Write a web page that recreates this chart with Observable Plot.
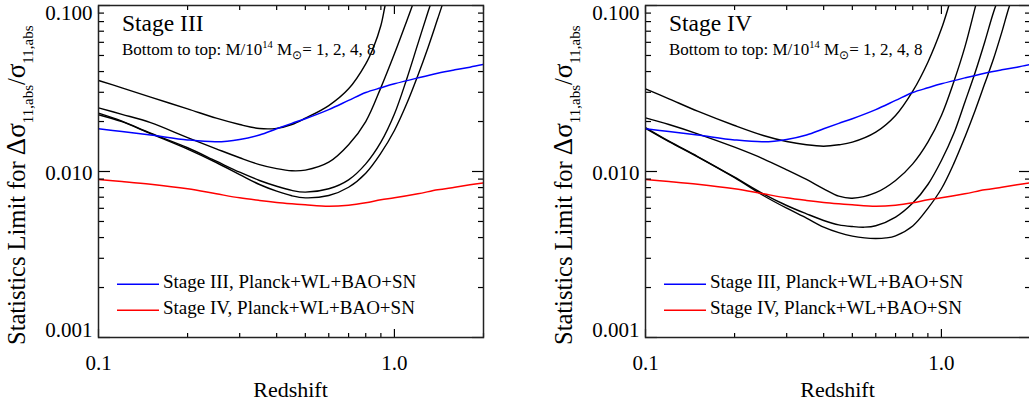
<!DOCTYPE html>
<html>
<head>
<meta charset="utf-8">
<script src="https://cdn.jsdelivr.net/npm/d3@7"></script>
<script src="https://cdn.jsdelivr.net/npm/@observablehq/plot@0.6"></script>
<style>
  html, body { margin: 0; padding: 0; background: #fff; width: 1029px; height: 404px; overflow: hidden; }
  #wrap { position: relative; width: 1029px; height: 404px; overflow: hidden; }
  .panel { position: absolute; top: 0; width: 490px; height: 404px; }
  .panel svg { max-width: none !important; width: 490px; height: 404px; }
  svg text { font-family: "Liberation Serif", "Times New Roman", serif; }
</style>
</head>
<body>
<div id="wrap"></div>
<script>
// ---------------- data ----------------
const panelTitles = ["Stage III", "Stage IV"];
const massLabel = "Bottom to top: M/10";
const massList = "= 1, 2, 4, 8";
const legendLabels = ["Stage III, Planck+WL+BAO+SN", "Stage IV, Planck+WL+BAO+SN"];
const legendColors = ["#0000ff", "#ff0000"];
const xTitle = "Redshift";

// prior-only curves (same in both panels)
const zPrior = [0.1, 0.12, 0.15, 0.2, 0.25, 0.3, 0.35, 0.4, 0.45, 0.5, 0.6, 0.7, 0.8, 0.9, 1.0, 1.2, 1.4, 1.6, 1.8, 2.0];
const stage3Prior = [0.01807, 0.01742, 0.0166, 0.0155, 0.0151, 0.0156, 0.0166, 0.0181, 0.0195, 0.0208, 0.0236, 0.0268, 0.02991, 0.03192, 0.03374, 0.03665, 0.03912, 0.04098, 0.04251, 0.04411];
const stage4Prior = [0.00895, 0.00871, 0.00839, 0.00787, 0.00734, 0.00694, 0.00669, 0.00651, 0.00639, 0.00630, 0.00618, 0.00627, 0.00648, 0.00675, 0.00694, 0.00734, 0.00776, 0.00804, 0.00831, 0.00854];

// Stage III cluster curves, M/1e14 Msun = 1, 2, 4, 8
const s3M1z = [0.1, 0.12, 0.15, 0.2, 0.25, 0.3, 0.35, 0.4, 0.45, 0.5, 0.6, 0.7, 0.8, 0.9, 1.0, 1.1, 1.2, 1.3, 1.4, 1.5, 1.55];
const s3M1v = [0.02196, 0.01995, 0.01690, 0.01365, 0.01133, 0.00959, 0.00835, 0.00761, 0.00714, 0.00694, 0.00717, 0.00804, 0.00977, 0.01290, 0.01766, 0.02556, 0.03787, 0.05610, 0.08311, 0.12, 0.14];
const s3M2z = [0.1, 0.12, 0.15, 0.2, 0.25, 0.3, 0.35, 0.4, 0.45, 0.5, 0.6, 0.7, 0.8, 0.9, 1.0, 1.1, 1.2, 1.3, 1.35, 1.4];
const s3M2v = [0.02245, 0.02009, 0.01701, 0.0139, 0.01153, 0.0099, 0.00883, 0.00815, 0.00769, 0.00751, 0.00787, 0.00891, 0.01112, 0.01502, 0.0222, 0.0360, 0.05874, 0.092, 0.112, 0.135];
const s3M4z = [0.1, 0.12, 0.15, 0.2, 0.25, 0.3, 0.35, 0.4, 0.45, 0.5, 0.6, 0.7, 0.8, 0.9, 1.0, 1.1, 1.15, 1.2];
const s3M4v = [0.02418, 0.0221, 0.0197, 0.0160, 0.0137, 0.0121, 0.0110, 0.0104, 0.0101, 0.0102, 0.01138, 0.0145, 0.0200, 0.0320, 0.05115, 0.08046, 0.1, 0.125];
const s3M8z = [0.1, 0.12, 0.15, 0.2, 0.25, 0.3, 0.35, 0.4, 0.45, 0.5, 0.6, 0.7, 0.8, 0.85, 0.9, 0.93, 0.96];
const s3M8v = [0.03533, 0.03192, 0.02803, 0.02385, 0.02095, 0.01919, 0.01816, 0.0182, 0.0192, 0.02095, 0.02496, 0.03148, 0.04453, 0.05610, 0.07577, 0.1, 0.13];

// Stage IV cluster curves
const s4M1z = [0.1, 0.12, 0.15, 0.2, 0.25, 0.3, 0.35, 0.4, 0.45, 0.5, 0.55, 0.6, 0.65, 0.7, 0.8, 0.9, 1.0, 1.1, 1.2, 1.3, 1.4, 1.5, 1.6, 1.7, 1.8];
const s4M1v = [0.0182, 0.01515, 0.01225, 0.00918, 0.00717, 0.00601, 0.00524, 0.00462, 0.00428, 0.00408, 0.00398, 0.00395, 0.00398, 0.00410, 0.00470, 0.00600, 0.00787, 0.01112, 0.01610, 0.02331, 0.03374, 0.04772, 0.06908, 0.1, 0.13];
const s4M2z = [0.1, 0.12, 0.15, 0.2, 0.25, 0.3, 0.35, 0.4, 0.45, 0.5, 0.55, 0.6, 0.7, 0.8, 0.9, 1.0, 1.1, 1.2, 1.3, 1.4, 1.5, 1.6];
const s4M2v = [0.0184, 0.01523, 0.01231, 0.00924, 0.00734, 0.00624, 0.00556, 0.00507, 0.00477, 0.00466, 0.00462, 0.00471, 0.00531, 0.00645, 0.00835, 0.01165, 0.01686, 0.02616, 0.0395, 0.06012, 0.09117, 0.125];
const s4M4z = [0.1, 0.12, 0.15, 0.2, 0.25, 0.3, 0.35, 0.4, 0.45, 0.5, 0.6, 0.7, 0.8, 0.9, 1.0, 1.1, 1.2, 1.3, 1.35];
const s4M4v = [0.02106, 0.01919, 0.01687, 0.01401, 0.01193, 0.01024, 0.00895, 0.00787, 0.00710, 0.00690, 0.00745, 0.00883, 0.01112, 0.01502, 0.02175, 0.03451, 0.05610, 0.097, 0.125];
const s4M8z = [0.1, 0.12, 0.15, 0.2, 0.25, 0.3, 0.35, 0.4, 0.45, 0.5, 0.6, 0.7, 0.8, 0.9, 1.0, 1.06, 1.1];
const s4M8v = [0.03149, 0.02742, 0.02308, 0.01893, 0.01648, 0.01516, 0.01448, 0.01420, 0.01448, 0.01502, 0.01726, 0.02175, 0.03047, 0.04556, 0.07236, 0.1, 0.125];

// axes
const xDomain = [0.1, 2.0];
const yDomain = [0.001, 0.1];
const xMajor = [0.1, 1.0];
const xMajorLabels = ["0.1", "1.0"];
const xMinor = [0.2, 0.3, 0.4, 0.5, 0.6, 0.7, 0.8, 0.9, 2.0];
const yMajor = [0.001, 0.01, 0.1];
const yMajorLabels = ["0.001", "0.010", "0.100"];
const yMinor = [0.002, 0.003, 0.004, 0.005, 0.006, 0.007, 0.008, 0.009, 0.02, 0.03, 0.04, 0.05, 0.06, 0.07, 0.08, 0.09];
const yLabelShift = [-7.5, 1.5, 7.5];

// ---------------- build ----------------
const SERIF = "'Liberation Serif', 'Times New Roman', serif";
function toRows(zs, vs, id) { return zs.map((z, i) => ({z, v: vs[i], id})); }

const panels = [
  {title: panelTitles[0], left: 0,
   black: [toRows(s3M1z, s3M1v, "1"), toRows(s3M2z, s3M2v, "2"), toRows(s3M4z, s3M4v, "4"), toRows(s3M8z, s3M8v, "8")].flat()},
  {title: panelTitles[1], left: 547,
   black: [toRows(s4M1z, s4M1v, "1"), toRows(s4M2z, s4M2v, "2"), toRows(s4M4z, s4M4v, "4"), toRows(s4M8z, s4M8v, "8")].flat()}
];
const blueRows = toRows(zPrior, stage3Prior, "III");
const redRows = toRows(zPrior, stage4Prior, "IV");

const W = 490, H = 404, ML = 98, MR = 7, MT = 5, MB = 67;

function tickAxes() {
  const m = [];
  const tk = {fill: "none", label: null, strokeWidth: 1.2};
  m.push(Plot.axisX(xMajor, {anchor: "bottom", tickSize: 8, dy: -8, ...tk}));
  m.push(Plot.axisX(xMinor, {anchor: "bottom", tickSize: 4, dy: -4, ...tk}));
  m.push(Plot.axisX(xMajor, {anchor: "top", tickSize: 8, dy: 8, ...tk}));
  m.push(Plot.axisX(xMinor, {anchor: "top", tickSize: 4, dy: 4, ...tk}));
  m.push(Plot.axisY(yMajor, {anchor: "left", tickSize: 12, dx: 12, ...tk}));
  m.push(Plot.axisY(yMinor, {anchor: "left", tickSize: 6, dx: 6, ...tk}));
  m.push(Plot.axisY(yMajor, {anchor: "right", tickSize: 12, dx: -12, ...tk}));
  m.push(Plot.axisY(yMinor, {anchor: "right", tickSize: 6, dx: -6, ...tk}));
  m.push(Plot.axisX(xMajor, {anchor: "bottom", tickSize: 0, tickPadding: 18, label: null, fontSize: 21, fontFamily: SERIF, fill: "#000",
    tickFormat: d => xMajorLabels[xMajor.indexOf(d)]}));
  yMajor.forEach((v, i) => {
    m.push(Plot.axisY([v], {anchor: "left", tickSize: 0, tickPadding: 6, label: null, fontSize: 21, fontFamily: SERIF, fill: "#000",
      dy: yLabelShift[i], tickFormat: () => yMajorLabels[i]}));
  });
  return m;
}

const wrap = document.getElementById("wrap");

panels.forEach(p => {
  const svgNode = Plot.plot({
    width: W, height: H,
    marginLeft: ML, marginRight: MR, marginTop: MT, marginBottom: MB,
    x: {type: "log", domain: xDomain, axis: null},
    y: {type: "log", domain: yDomain, axis: null},
    style: {fontFamily: SERIF, fontSize: "21px", background: "transparent", color: "#000", overflow: "visible", maxWidth: "none"},
    marks: [
      Plot.line(p.black, {x: "z", y: "v", z: "id", stroke: "#000", strokeWidth: 1.4, curve: "catmull-rom", clip: true}),
      Plot.line(blueRows, {x: "z", y: "v", stroke: legendColors[0], strokeWidth: 1.5, curve: "catmull-rom", clip: true}),
      Plot.line(redRows, {x: "z", y: "v", stroke: legendColors[1], strokeWidth: 1.5, curve: "catmull-rom", clip: true}),
      ...tickAxes(),
      Plot.frame({stroke: "#222", strokeWidth: 1.5})
    ]
  });
  const holder = document.createElement("div");
  holder.className = "panel";
  holder.style.left = p.left + "px";
  holder.appendChild(svgNode);
  wrap.appendChild(holder);

  const svg = d3.select(svgNode);
  const g = svg.append("g").attr("fill", "#000").attr("text-anchor", "start").attr("font-family", SERIF);

  // panel title
  g.append("text").attr("x", 122).attr("y", 30.5).attr("font-size", 23.5).text(p.title);
  // subtitle with superscript / subscript
  const st = g.append("text").attr("x", 122).attr("y", 55).attr("font-size", 17);
  st.append("tspan").text(massLabel);
  st.append("tspan").attr("font-size", 10.5).attr("dy", -7).text("14");
  st.append("tspan").attr("dy", 7).text(" M");
  st.append("tspan").attr("font-size", 12).attr("dy", 4).text("\u2299");
  st.append("tspan").attr("dy", -4).text(massList);

  // legend
  legendLabels.forEach((lab, i) => {
    const yy = 284.3 + i * 26;
    g.append("line").attr("x1", 117).attr("x2", 159).attr("y1", yy).attr("y2", yy)
      .attr("stroke", legendColors[i]).attr("stroke-width", 1.5);
    g.append("text").attr("x", 163).attr("y", yy + 4).attr("font-size", 19).text(lab);
  });

  // x title
  g.append("text").attr("x", (ML + W - MR) / 2).attr("y", 397).attr("text-anchor", "middle")
    .attr("font-size", 22).text(xTitle);

  // y title
  const yt = g.append("text").attr("transform", "translate(25,345) rotate(-90)").attr("font-size", 24.5);
  yt.append("tspan").text("Statistics Limit for ");
  yt.append("tspan").attr("font-size", 27).text("\u0394\u03c3");
  yt.append("tspan").attr("font-size", 15).attr("dy", 8).text("11,abs");
  yt.append("tspan").attr("dy", -8).text("/");
  yt.append("tspan").attr("font-size", 27).text("\u03c3");
  yt.append("tspan").attr("font-size", 15).attr("dy", 8).text("11,abs");
});
</script>
</body>
</html>
